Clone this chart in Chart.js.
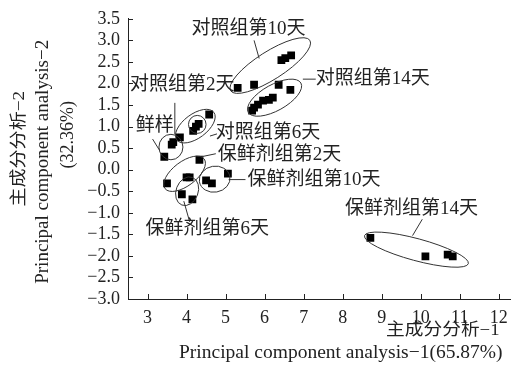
<!DOCTYPE html>
<html><head><meta charset="utf-8">
<script src="https://cdn.jsdelivr.net/npm/chart.js@4.4.0/dist/chart.umd.min.js"></script>
<style>html,body{margin:0;padding:0;background:#fff}#wrap{width:516px;height:374px}</style>
</head><body><div id="wrap"><canvas id="c" width="516" height="374"></canvas></div>
<script>
// ---- tick labels ----
const xTicks = [3, 4, 5, 6, 7, 8, 9, 10, 11, 12];
const yTicks = [-3.0, -2.5, -2.0, -1.5, -1.0, -0.5, 0.0, 0.5, 1.0, 1.5, 2.0, 2.5, 3.0, 3.5];

// ---- groups ----
const groupNames = ['鲜样', '对照组第2天', '对照组第6天', '对照组第10天', '对照组第14天',
                    '保鲜剂组第2天', '保鲜剂组第6天', '保鲜剂组第10天', '保鲜剂组第14天'];

// ---- PCA scores (PC1 = x, PC2 = y) ----
const freshPC1 = [3.62, 3.66, 3.43];
const freshPC2 = [0.58, 0.64, 0.30];
const ctrl2PC1 = [3.83];
const ctrl2PC2 = [0.75];
const ctrl6PC1 = [4.17, 4.24, 4.31, 4.58];
const ctrl6PC2 = [0.90, 1.00, 1.06, 1.28];
const ctrl10PC1 = [5.31, 5.73, 6.43, 6.53, 6.68];
const ctrl10PC2 = [1.90, 1.97, 2.54, 2.59, 2.65];
const ctrl14PC1 = [6.36, 6.66, 6.21, 6.11, 5.96, 5.83, 5.73, 5.68];
const ctrl14PC2 = [1.97, 1.85, 1.67, 1.62, 1.60, 1.51, 1.44, 1.37];
const pres2PC1 = [4.33, 3.50, 4.00, 4.08];
const pres2PC2 = [0.23, -0.32, -0.18, -0.18];
const pres6PC1 = [3.88, 4.15];
const pres6PC2 = [-0.57, -0.69];
const pres10PC1 = [4.50, 4.65, 5.06];
const pres10PC2 = [-0.25, -0.32, -0.09];
const pres14PC1 = [8.71, 10.12, 10.69, 10.82];
const pres14PC2 = [-1.58, -2.01, -1.97, -2.01];

const seriesX = [freshPC1, ctrl2PC1, ctrl6PC1, ctrl10PC1, ctrl14PC1, pres2PC1, pres6PC1, pres10PC1, pres14PC1];
const seriesY = [freshPC2, ctrl2PC2, ctrl6PC2, ctrl10PC2, ctrl14PC2, pres2PC2, pres6PC2, pres10PC2, pres14PC2];

// ---- annotation layout (data coordinates) ----
// ellipses: major-axis endpoints in data units, minor half-width in px
const ellipses = [
  {p1: [3.60, 0.82], p2: [3.60, 0.23], b: 12},
  {p1: [3.75, 0.69], p2: [4.70, 1.33], b: 12},
  {p1: [4.05, 1.05], p2: [4.50, 1.05], b: 9},
  {p1: [5.13, 1.83], p2: [7.16, 3.00], b: 14},
  {p1: [5.58, 1.33], p2: [6.93, 2.01], b: 13},
  {p1: [3.45, -0.44], p2: [4.45, 0.25], b: 12},
  {p1: [3.88, -0.82], p2: [4.15, -0.18], b: 11},
  {p1: [4.33, -0.28], p2: [5.11, -0.16], b: 13},
  {p1: [8.56, -1.53], p2: [11.22, -2.18], b: 11}
];
const leaders = [
  [[3.13, 0.71], [3.30, 0.46]],
  [[3.70, 1.55], [3.70, 0.82]],
  [[4.60, 0.78], [4.78, 0.83]],
  [[5.73, 3.00], [5.86, 2.58]],
  [[6.98, 2.10], [7.31, 2.10]],
  [[4.38, 0.30], [4.75, 0.37]],
  [[3.93, -0.73], [4.08, -1.21]],
  [[5.08, -0.23], [5.51, -0.23]],
  [[10.04, -1.15], [9.79, -1.53]]
];
const labelPos = [
  [2.70, 1.01], [2.55, 1.97], [4.75, 0.85], [4.13, 3.27], [7.31, 2.10],
  [4.80, 0.34], [2.95, -1.37], [5.56, -0.23], [8.06, -0.92]
];

const INK = '#222';
const LATIN = '"Liberation Serif", "Noto Sans CJK SC", serif';

const datasets = groupNames.map((name, i) => ({
  label: name,
  data: seriesX[i].map((x, j) => ({x: x, y: seriesY[i][j]})),
  pointStyle: 'rect',
  pointRadius: 5.5,
  pointHoverRadius: 5.5,
  backgroundColor: '#000',
  borderColor: '#000',
  borderWidth: 0,
  showLine: false
}));

// text with an optional horizontal stretch factor
function stretchText(ctx, text, x, y, sx, align, rot) {
  ctx.save();
  ctx.translate(x, y);
  if (rot) ctx.rotate(rot);
  ctx.scale(sx, 1);
  ctx.textAlign = align;
  ctx.fillText(text, 0, 0);
  ctx.restore();
}

const decor = {
  id: 'decor',
  afterDatasetsDraw(chart) {
    const ctx = chart.ctx;
    const xs = chart.scales.x, ys = chart.scales.y;
    const px = v => xs.getPixelForValue(v), py = v => ys.getPixelForValue(v);
    const area = chart.chartArea;
    ctx.save();
    // inside tick marks
    ctx.strokeStyle = INK; ctx.lineWidth = 1;
    ctx.beginPath();
    yTicks.forEach(v => { const y = Math.round(py(v)) + 0.5; ctx.moveTo(area.left, y); ctx.lineTo(area.left + 5, y); });
    xTicks.forEach(v => { const x = Math.round(px(v)) + 0.5; ctx.moveTo(x, area.bottom); ctx.lineTo(x, area.bottom - 5); });
    ctx.stroke();
    // ellipses
    ctx.strokeStyle = '#333'; ctx.lineWidth = 1;
    ellipses.forEach(e => {
      const x1 = px(e.p1[0]), y1 = py(e.p1[1]), x2 = px(e.p2[0]), y2 = py(e.p2[1]);
      const cx = (x1 + x2) / 2, cy = (y1 + y2) / 2;
      const a = Math.hypot(x2 - x1, y2 - y1) / 2;
      const ang = Math.atan2(y2 - y1, x2 - x1);
      ctx.beginPath(); ctx.ellipse(cx, cy, a, e.b, ang, 0, Math.PI * 2); ctx.stroke();
    });
    // leaders
    ctx.beginPath();
    leaders.forEach(l => { ctx.moveTo(px(l[0][0]), py(l[0][1])); ctx.lineTo(px(l[1][0]), py(l[1][1])); });
    ctx.stroke();
    // labels
    ctx.fillStyle = INK; ctx.font = '19px ' + LATIN; ctx.textBaseline = 'middle';
    groupNames.forEach((n, i) => stretchText(ctx, n, px(labelPos[i][0]), py(labelPos[i][1]), 1.0, 'left', 0));
    ctx.restore();
  },
  afterDraw(chart) {
    const ctx = chart.ctx, area = chart.chartArea;
    ctx.save();
    ctx.fillStyle = INK; ctx.textBaseline = 'middle';
    // y-axis titles
    ctx.font = '17px ' + LATIN;
    stretchText(ctx, '主成分分析−2', 20, area.top + 130, 1.12, 'center', -Math.PI / 2);
    ctx.font = '19px ' + LATIN;
    stretchText(ctx, 'Principal component analysis−2', 43, area.top + 143, 1.0, 'center', -Math.PI / 2);
    ctx.font = '18px ' + LATIN;
    stretchText(ctx, '(32.36%)', 68, area.top + 116, 1.0, 'center', -Math.PI / 2);
    // x-axis titles
    ctx.font = '17px ' + LATIN;
    stretchText(ctx, '主成分分析−1', area.right - 11, area.bottom + 32, 1.1, 'right', 0);
    ctx.font = '19.5px ' + LATIN;
    stretchText(ctx, 'Principal component analysis−1(65.87%)', area.right - 8, area.bottom + 54, 1.0, 'right', 0);
    ctx.restore();
  }
};

new Chart(document.getElementById('c'), {
  type: 'scatter',
  data: {datasets: datasets},
  options: {
    responsive: false,
    animation: false,
    devicePixelRatio: 1,
    layout: {padding: {top: 14, left: 0, right: 0, bottom: 0}},
    plugins: {legend: {display: false}, tooltip: {enabled: false}},
    scales: {
      x: {
        type: 'linear', min: 2.5, max: 12.3,
        afterBuildTicks: s => { s.ticks = xTicks.map(v => ({value: v})); },
        afterFit: s => { s.height = 75; },
        grid: {display: false, drawTicks: false},
        border: {display: true, color: INK, width: 1},
        ticks: {color: INK, padding: 8, autoSkip: false, maxRotation: 0, font: {family: LATIN, size: 18}, callback: v => String(v)}
      },
      y: {
        type: 'linear', min: -3, max: 3.5,
        afterBuildTicks: s => { s.ticks = yTicks.map(v => ({value: v})); },
        afterFit: s => { s.width = 128; },
        grid: {display: false, drawTicks: false},
        border: {display: true, color: INK, width: 1},
        ticks: {color: INK, padding: 8, autoSkip: false, font: {family: LATIN, size: 18},
          callback: v => Number(v).toFixed(1).replace('-', '−')}
      }
    }
  },
  plugins: [decor]
});
</script></body></html>
